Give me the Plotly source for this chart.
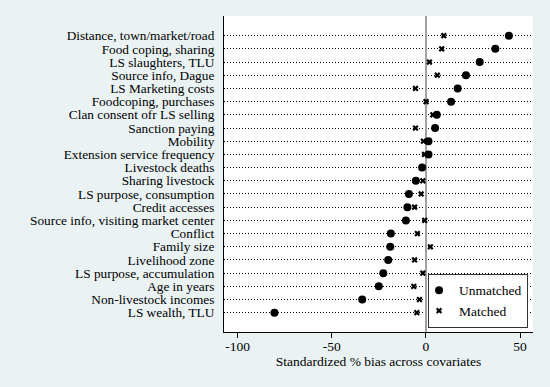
import plotly.graph_objects as go

# Covariates, top to bottom as in the chart
covariates = [
    "Distance, town/market/road",
    "Food coping, sharing",
    "LS slaughters, TLU",
    "Source info, Dague",
    "LS Marketing costs",
    "Foodcoping, purchases",
    "Clan consent ofr LS selling",
    "Sanction paying",
    "Mobility",
    "Extension service frequency",
    "Livestock deaths",
    "Sharing livestock",
    "LS purpose, consumption",
    "Credit accesses",
    "Source info, visiting market center",
    "Conflict",
    "Family size",
    "Livelihood zone",
    "LS purpose, accumulation",
    "Age in years",
    "Non-livestock incomes",
    "LS wealth, TLU",
]
unmatched = [44.1, 36.9, 28.6, 21.3, 16.9, 13.4, 5.8, 4.9, 1.4, 1.4, -2.0,
             -5.3, -9.0, -9.8, -10.6, -18.6, -18.9, -20.0, -22.6, -25.0, -33.8, -80.4]
matched = [9.5, 8.4, 1.9, 6.1, -5.5, 0.1, 3.7, -5.5, -1.3, -0.7, -2.0,
           -1.6, -2.5, -6.0, -0.6, -4.5, 2.4, -6.0, -1.6, -6.4, -3.4, -4.8]
x_ticks = [-100, -50, 0, 50]
x_title = "Standardized % bias across covariates"

FONT = "Liberation Serif"
BG = "#eaf2f3"

fig = go.Figure()
fig.add_trace(go.Scatter(
    x=matched, y=covariates, mode="markers", name="Matched", legendrank=2,
    marker=dict(symbol="x", size=5.5, color="black", line=dict(width=0)),
))
fig.add_trace(go.Scatter(
    x=unmatched, y=covariates, mode="markers", name="Unmatched", legendrank=1,
    marker=dict(symbol="circle", size=8, color="black"),
))

n = len(covariates)
fig.update_layout(
    width=550, height=387,
    margin=dict(l=223.5, r=17, t=16, b=55, autoexpand=False),
    paper_bgcolor=BG,
    plot_bgcolor="white",
    font=dict(family=FONT, size=13.5, color="black"),
    showlegend=True,
    legend=dict(
        x=0.984, xanchor="right", y=0.013, yanchor="bottom",
        bgcolor="white", bordercolor="#333333", borderwidth=1,
        font=dict(family=FONT, size=13.5, color="black"),
        tracegroupgap=0, itemwidth=30, indentation=-10,
    ),
    xaxis=dict(
        range=[-107.2, 56.9],
        tickmode="array",
        tickvals=x_ticks, ticktext=[str(v) for v in x_ticks],
        ticks="outside", ticklen=5, tickcolor="black", tickwidth=1,
        ticklabelstandoff=-3,
        showline=True, linecolor="black", linewidth=1,
        showgrid=False,
        zeroline=True, zerolinecolor="#a0a0a0", zerolinewidth=1.5,
        title=dict(text=x_title, standoff=0, font=dict(size=13.5)),
        automargin=False,
        fixedrange=True,
    ),
    yaxis=dict(
        type="category",
        categoryorder="array", categoryarray=covariates[::-1],
        tickmode="array", tickvals=covariates, ticktext=covariates,
        range=[-1.46, n - 1 + 1.49],
        showline=True, linecolor="black", linewidth=1,
        showgrid=True, gridcolor="black", griddash="1px,2px", gridwidth=1,
        ticks="outside", ticklen=6, tickcolor="rgba(0,0,0,0)",
        tickfont=dict(size=13.3),
        zeroline=False,
        automargin=False,
        fixedrange=True,
    ),
)

fig.write_html(
    "out.html",
    config={"displayModeBar": False},
    post_script=(
        "document.body.style.margin='0';"
        "document.body.style.padding='0';"
        "document.body.style.overflow='hidden';"
        f"document.body.style.background='{BG}';"
    ),
)
